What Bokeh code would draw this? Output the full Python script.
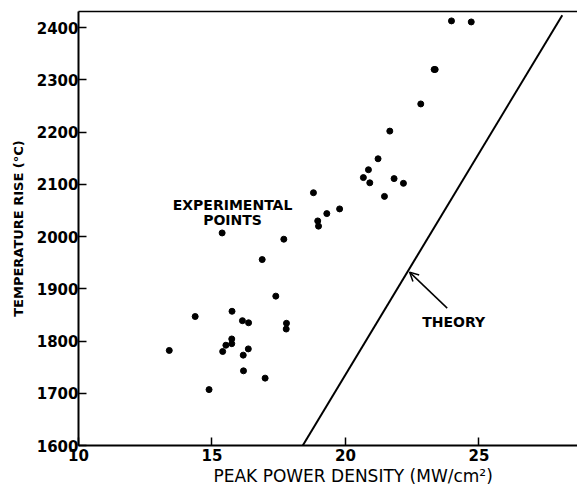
from bokeh.plotting import figure
from bokeh.models import (Range1d, FixedTicker, Label, Arrow, OpenHead, ColumnDataSource,
                          Title, LinearAxis)
from bokeh.embed import file_html
from bokeh.resources import INLINE

# Experimental points (peak power density MW/cm^2, temperature rise C)
exp_x = [23.97, 24.71, 23.32, 23.36, 22.82, 21.66, 21.22, 20.86, 20.67, 20.91, 21.82, 22.17,
         21.46, 18.80, 19.78, 19.30, 18.96, 18.99, 17.69, 15.38, 16.88, 17.39, 14.37, 15.75,
         16.14, 16.37, 17.79, 17.78, 13.40, 15.40, 15.52, 15.74, 15.74, 16.36, 16.17, 16.18,
         16.99, 14.89]
exp_y = [2413, 2411, 2320, 2320, 2254, 2202, 2149, 2128, 2113, 2103, 2111, 2102,
         2077, 2084, 2053, 2044, 2030, 2020, 1995, 2007, 1956, 1886, 1847, 1857,
         1839, 1835, 1834, 1823, 1782, 1780, 1792, 1804, 1795, 1785, 1773, 1743,
         1729, 1707]

# Theory line
theory_x = [18.40, 28.12]
theory_y = [1600, 2424]

x_ticks = [10, 15, 20, 25]
y_ticks = [1600, 1700, 1800, 1900, 2000, 2100, 2200, 2300, 2400]

FONT = "DejaVu Sans"

p = figure(width=577, height=485, output_backend="svg", toolbar_location=None,
           x_range=Range1d(10, 28.69), y_range=Range1d(1600, 2431),
           min_border_left=78, min_border_right=0, min_border_top=11, min_border_bottom=0)
p.background_fill_color = "white"
p.border_fill_color = "white"
p.outline_line_color = None
p.grid.visible = False

for ax in (p.xaxis, p.yaxis):
    ax.axis_line_width = 2
    ax.axis_line_color = "black"
    ax.major_tick_in = 8
    ax.major_tick_out = 0
    ax.major_tick_line_width = 1.5
    ax.minor_tick_line_color = None
    ax.major_label_text_font = FONT
    ax.major_label_text_font_style = "bold"
    ax.major_label_text_font_size = "15px"
    ax.major_label_text_color = "black"

p.xaxis.ticker = FixedTicker(ticks=x_ticks)
p.yaxis.ticker = FixedTicker(ticks=y_ticks)
p.xaxis.major_label_standoff = 3
p.yaxis.major_label_standoff = 0

# top frame line only (no right border, as in the original)
top = LinearAxis(ticker=FixedTicker(ticks=[]), major_label_text_font_size="0px",
                 axis_line_width=1.5, axis_line_color="black",
                 major_tick_line_color=None, minor_tick_line_color=None)
p.add_layout(top, "above")

p.yaxis.axis_label = "TEMPERATURE RISE (°C)"
p.yaxis.axis_label_text_font = FONT
p.yaxis.axis_label_text_font_style = "bold"
p.yaxis.axis_label_text_font_size = "13px"
p.yaxis.axis_label_text_color = "black"
p.yaxis.axis_label_standoff = 8

p.add_layout(Title(text="PEAK POWER DENSITY (MW/cm²)", text_font=FONT, text_font_size="17px",
                   text_font_style="normal", text_color="black", align="left", offset=135,
                   standoff=0), "below")

src = ColumnDataSource(dict(x=exp_x, y=exp_y))
p.scatter("x", "y", source=src, size=6, color="black")
p.line(theory_x, theory_y, line_color="black", line_width=2)

p.add_layout(Arrow(end=OpenHead(size=9, line_width=1.5, line_color="black"),
                   x_start=23.81, y_start=1863, x_end=22.40, y_end=1932,
                   line_width=1.5, line_color="black"))

p.add_layout(Label(x=24.05, y=1836, text="THEORY", text_font=FONT, text_font_size="14px",
                   text_font_style="bold", text_align="center", text_baseline="middle",
                   text_color="black"))
p.add_layout(Label(x=15.77, y=2061, text="EXPERIMENTAL", text_font=FONT, text_font_size="14px",
                   text_font_style="bold", text_align="center", text_baseline="middle",
                   text_color="black"))
p.add_layout(Label(x=15.77, y=2032, text="POINTS", text_font=FONT, text_font_size="14px",
                   text_font_style="bold", text_align="center", text_baseline="middle",
                   text_color="black"))

open("out.html", "w").write(file_html(p, INLINE))
